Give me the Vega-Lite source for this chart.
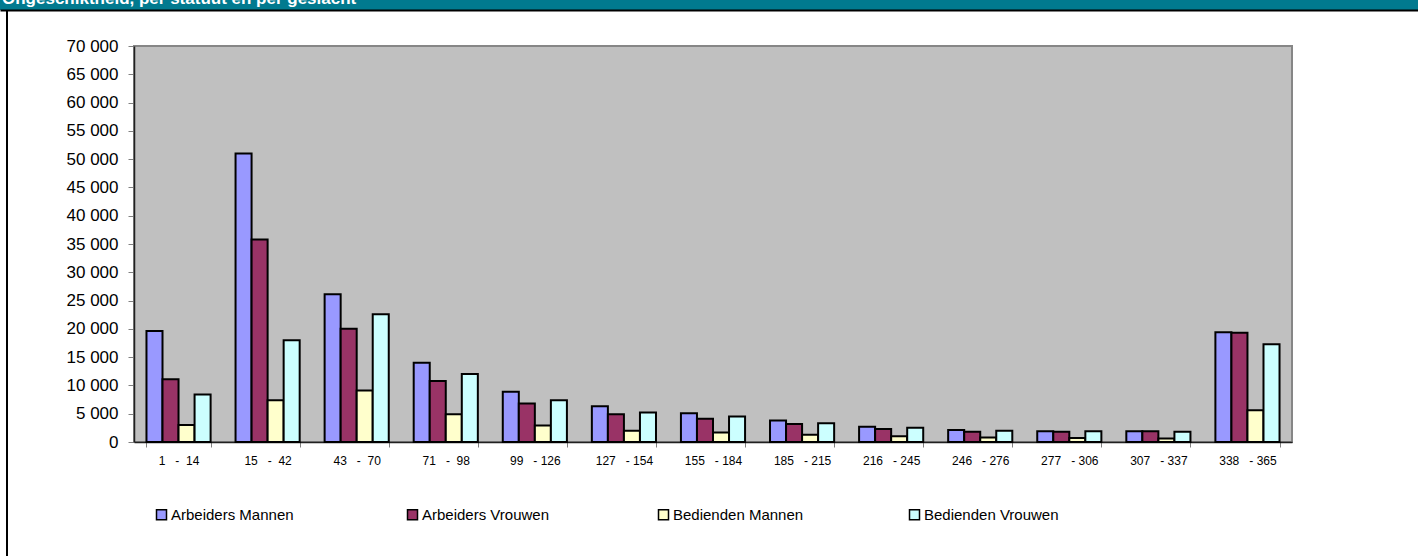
{
  "$schema": "https://vega.github.io/schema/vega-lite/v6.json",
  "background": "white",
  "padding": 0,
  "bounds": "flush",
  "spacing": 0,
  "config": {
    "font": "Liberation Sans",
    "view": {"stroke": null},
    "concat": {"spacing": 0}
  },
  "resolve": {"scale": {"color": "independent"}, "legend": {"color": "independent"}},
  "vconcat": [
    {
      "width": 1418,
      "height": 10,
      "view": {"fill": "#017A8F", "stroke": null},
      "data": {"values": [{"title": "Ongeschiktheid, per statuut en per geslacht"}]},
      "mark": {"type": "text", "clip": true, "align": "left", "baseline": "alphabetic", "dx": 2, "dy": 4, "font": "Liberation Sans", "fontWeight": "bold", "fontSize": 17, "color": "white"},
      "encoding": {
        "x": {"field": "title", "type": "nominal", "scale": {"type": "point", "padding": 0, "align": 0}, "axis": {"orient": "bottom", "labels": false, "ticks": false, "title": null, "domain": true, "domainColor": "black", "domainWidth": 2}},
        "y": {"field": "title", "type": "nominal", "scale": {"type": "point", "padding": 0, "align": 0}, "axis": null},
        "text": {"field": "title"}
      }
    },
    {
      "bounds": "flush",
      "spacing": 0,
      "resolve": {"scale": {"color": "independent"}, "legend": {"color": "independent"}},
      "hconcat": [
        {"width": 6, "height": 546, "data": {"values": []}, "mark": "point"},
        {"width": 2, "height": 546, "view": {"fill": "black", "stroke": null}, "data": {"values": []}, "mark": "point"},
        {"width": 126, "height": 546, "data": {"values": []}, "mark": "point"},
        {
          "bounds": "flush",
          "spacing": 0,
          "resolve": {"scale": {"color": "independent"}, "legend": {"color": "independent"}},
          "vconcat": [
            {"width": 1158, "height": 36, "data": {"values": []}, "mark": "point"},
            {
              "width": 1158,
              "height": 396,
              "view": {"fill": "#C0C0C0", "stroke": "#868686", "strokeWidth": 2},
              "data": {"values": [
                {"range": "1\u00a0\u00a0\u00a0-\u00a0\u00a014", "serie": "Arbeiders Mannen", "value": 19600},
                {"range": "1\u00a0\u00a0\u00a0-\u00a0\u00a014", "serie": "Arbeiders Vrouwen", "value": 11100},
                {"range": "1\u00a0\u00a0\u00a0-\u00a0\u00a014", "serie": "Bedienden Mannen", "value": 3000},
                {"range": "1\u00a0\u00a0\u00a0-\u00a0\u00a014", "serie": "Bedienden Vrouwen", "value": 8400},
                {"range": "15\u00a0\u00a0\u00a0-\u00a0\u00a042", "serie": "Arbeiders Mannen", "value": 51000},
                {"range": "15\u00a0\u00a0\u00a0-\u00a0\u00a042", "serie": "Arbeiders Vrouwen", "value": 35800},
                {"range": "15\u00a0\u00a0\u00a0-\u00a0\u00a042", "serie": "Bedienden Mannen", "value": 7400},
                {"range": "15\u00a0\u00a0\u00a0-\u00a0\u00a042", "serie": "Bedienden Vrouwen", "value": 18000},
                {"range": "43\u00a0\u00a0\u00a0-\u00a0\u00a070", "serie": "Arbeiders Mannen", "value": 26100},
                {"range": "43\u00a0\u00a0\u00a0-\u00a0\u00a070", "serie": "Arbeiders Vrouwen", "value": 20000},
                {"range": "43\u00a0\u00a0\u00a0-\u00a0\u00a070", "serie": "Bedienden Mannen", "value": 9100},
                {"range": "43\u00a0\u00a0\u00a0-\u00a0\u00a070", "serie": "Bedienden Vrouwen", "value": 22600},
                {"range": "71\u00a0\u00a0\u00a0-\u00a0\u00a098", "serie": "Arbeiders Mannen", "value": 14000},
                {"range": "71\u00a0\u00a0\u00a0-\u00a0\u00a098", "serie": "Arbeiders Vrouwen", "value": 10800},
                {"range": "71\u00a0\u00a0\u00a0-\u00a0\u00a098", "serie": "Bedienden Mannen", "value": 4900},
                {"range": "71\u00a0\u00a0\u00a0-\u00a0\u00a098", "serie": "Bedienden Vrouwen", "value": 12000},
                {"range": "99\u00a0\u00a0\u00a0-\u00a0126", "serie": "Arbeiders Mannen", "value": 8900},
                {"range": "99\u00a0\u00a0\u00a0-\u00a0126", "serie": "Arbeiders Vrouwen", "value": 6800},
                {"range": "99\u00a0\u00a0\u00a0-\u00a0126", "serie": "Bedienden Mannen", "value": 2900},
                {"range": "99\u00a0\u00a0\u00a0-\u00a0126", "serie": "Bedienden Vrouwen", "value": 7400},
                {"range": "127\u00a0\u00a0\u00a0-\u00a0154", "serie": "Arbeiders Mannen", "value": 6300},
                {"range": "127\u00a0\u00a0\u00a0-\u00a0154", "serie": "Arbeiders Vrouwen", "value": 4900},
                {"range": "127\u00a0\u00a0\u00a0-\u00a0154", "serie": "Bedienden Mannen", "value": 2000},
                {"range": "127\u00a0\u00a0\u00a0-\u00a0154", "serie": "Bedienden Vrouwen", "value": 5200},
                {"range": "155\u00a0\u00a0\u00a0-\u00a0184", "serie": "Arbeiders Mannen", "value": 5100},
                {"range": "155\u00a0\u00a0\u00a0-\u00a0184", "serie": "Arbeiders Vrouwen", "value": 4100},
                {"range": "155\u00a0\u00a0\u00a0-\u00a0184", "serie": "Bedienden Mannen", "value": 1700},
                {"range": "155\u00a0\u00a0\u00a0-\u00a0184", "serie": "Bedienden Vrouwen", "value": 4500},
                {"range": "185\u00a0\u00a0\u00a0-\u00a0215", "serie": "Arbeiders Mannen", "value": 3800},
                {"range": "185\u00a0\u00a0\u00a0-\u00a0215", "serie": "Arbeiders Vrouwen", "value": 3200},
                {"range": "185\u00a0\u00a0\u00a0-\u00a0215", "serie": "Bedienden Mannen", "value": 1300},
                {"range": "185\u00a0\u00a0\u00a0-\u00a0215", "serie": "Bedienden Vrouwen", "value": 3300},
                {"range": "216\u00a0\u00a0\u00a0-\u00a0245", "serie": "Arbeiders Mannen", "value": 2700},
                {"range": "216\u00a0\u00a0\u00a0-\u00a0245", "serie": "Arbeiders Vrouwen", "value": 2300},
                {"range": "216\u00a0\u00a0\u00a0-\u00a0245", "serie": "Bedienden Mannen", "value": 1000},
                {"range": "216\u00a0\u00a0\u00a0-\u00a0245", "serie": "Bedienden Vrouwen", "value": 2500},
                {"range": "246\u00a0\u00a0\u00a0-\u00a0276", "serie": "Arbeiders Mannen", "value": 2100},
                {"range": "246\u00a0\u00a0\u00a0-\u00a0276", "serie": "Arbeiders Vrouwen", "value": 1800},
                {"range": "246\u00a0\u00a0\u00a0-\u00a0276", "serie": "Bedienden Mannen", "value": 800},
                {"range": "246\u00a0\u00a0\u00a0-\u00a0276", "serie": "Bedienden Vrouwen", "value": 2000},
                {"range": "277\u00a0\u00a0\u00a0-\u00a0306", "serie": "Arbeiders Mannen", "value": 1900},
                {"range": "277\u00a0\u00a0\u00a0-\u00a0306", "serie": "Arbeiders Vrouwen", "value": 1800},
                {"range": "277\u00a0\u00a0\u00a0-\u00a0306", "serie": "Bedienden Mannen", "value": 700},
                {"range": "277\u00a0\u00a0\u00a0-\u00a0306", "serie": "Bedienden Vrouwen", "value": 1900},
                {"range": "307\u00a0\u00a0\u00a0-\u00a0337", "serie": "Arbeiders Mannen", "value": 1900},
                {"range": "307\u00a0\u00a0\u00a0-\u00a0337", "serie": "Arbeiders Vrouwen", "value": 1900},
                {"range": "307\u00a0\u00a0\u00a0-\u00a0337", "serie": "Bedienden Mannen", "value": 600},
                {"range": "307\u00a0\u00a0\u00a0-\u00a0337", "serie": "Bedienden Vrouwen", "value": 1800},
                {"range": "338\u00a0\u00a0\u00a0-\u00a0365", "serie": "Arbeiders Mannen", "value": 19400},
                {"range": "338\u00a0\u00a0\u00a0-\u00a0365", "serie": "Arbeiders Vrouwen", "value": 19300},
                {"range": "338\u00a0\u00a0\u00a0-\u00a0365", "serie": "Bedienden Mannen", "value": 5600},
                {"range": "338\u00a0\u00a0\u00a0-\u00a0365", "serie": "Bedienden Vrouwen", "value": 17300}
              ]},
              "mark": {"type": "bar", "stroke": "black", "strokeWidth": 2},
              "encoding": {
                "x": {
                  "field": "range", "type": "nominal", "sort": null,
                  "scale": {"paddingInner": 0.28, "paddingOuter": 0.14},
                  "axis": {"title": null, "labelAngle": 0, "labelFontSize": 12, "labelColor": "black", "labelPadding": 8, "tickBand": "extent", "tickSize": 5, "tickColor": "#808080", "domainColor": "#202020", "domainWidth": 1.5}
                },
                "xOffset": {"field": "serie", "type": "nominal", "sort": ["Arbeiders Mannen", "Arbeiders Vrouwen", "Bedienden Mannen", "Bedienden Vrouwen"]},
                "y": {
                  "field": "value", "type": "quantitative",
                  "scale": {"domain": [0, 70000], "nice": false},
                  "axis": {"title": null, "values": [0, 5000, 10000, 15000, 20000, 25000, 30000, 35000, 40000, 45000, 50000, 55000, 60000, 65000, 70000], "labelExpr": "replace(format(datum.value, ','), ',', ' ')", "labelFontSize": 17, "labelColor": "black", "labelPadding": 10, "tickSize": 6, "tickColor": "#808080", "domainColor": "#202020", "domainWidth": 1.5, "grid": false}
                },
                "color": {
                  "field": "serie", "type": "nominal",
                  "scale": {"domain": ["Arbeiders Mannen", "Arbeiders Vrouwen", "Bedienden Mannen", "Bedienden Vrouwen"], "range": ["#9999FF", "#993366", "#FFFFCC", "#CCFFFF"]},
                  "legend": {"title": null, "orient": "bottom", "direction": "horizontal", "columns": 4, "gridAlign": "all", "symbolType": "square", "symbolSize": 100, "symbolStrokeColor": "black", "symbolStrokeWidth": 1.5, "labelFontSize": 15, "labelColor": "black", "labelOffset": 2, "columnPadding": 98, "padding": 20, "offset": 21}
                }
              }
            }
          ]
        }
      ]
    }
  ]
}
